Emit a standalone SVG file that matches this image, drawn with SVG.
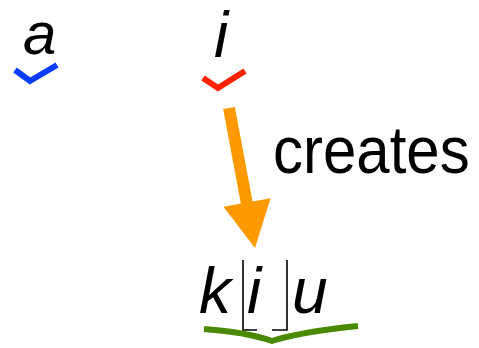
<svg xmlns="http://www.w3.org/2000/svg" width="479" height="348" viewBox="0 0 479 348">
<style>
.it{font-family:"Liberation Sans",Arial,sans-serif;font-style:italic;font-size:64px;fill:#000}
.lbl{font-family:"Liberation Sans",Arial,sans-serif;font-size:60px;fill:#000}
.mark{fill:none;stroke-width:6;stroke-linecap:butt;stroke-linejoin:miter}
.br{fill:none;stroke:#000;stroke-width:1.6}
</style>
<rect width="479" height="348" fill="#fff"/>
<g id="node-a">
<text class="it" x="23" y="54" style="font-size:60px">a</text>
<path class="mark" stroke="#0a3cff" d="M15,70 L30,81 L57,65"/>
</g>
<g id="node-i">
<text class="it" x="214" y="57">i</text>
<path class="mark" stroke="#ff2200" d="M203,78 L218,88 L245,71"/>
</g>
<g id="node-kiu">
<text class="it" x="199" y="313">k</text>
<text class="it" x="247" y="313">i</text>
<text class="it" x="292" y="313">u</text>
<path class="br" d="M243,260 V330 H257"/>
<path class="br" d="M287,260 V330 H272"/>
<path class="mark" stroke="#4a8a00" d="M204,329 C230,331 255,335 272,341 C290,335 320,330 358,326"/>
</g>
<g id="connectors">
<line x1="229" y1="108" x2="247" y2="204" stroke="#ff9900" stroke-width="12"/>
<polygon points="223.4,206.7 270.6,198.3 255,248" fill="#ff9900"/>
<text class="lbl" transform="translate(273,173) scale(1,1.12)" x="0" y="0">creates</text>
</g>
</svg>
